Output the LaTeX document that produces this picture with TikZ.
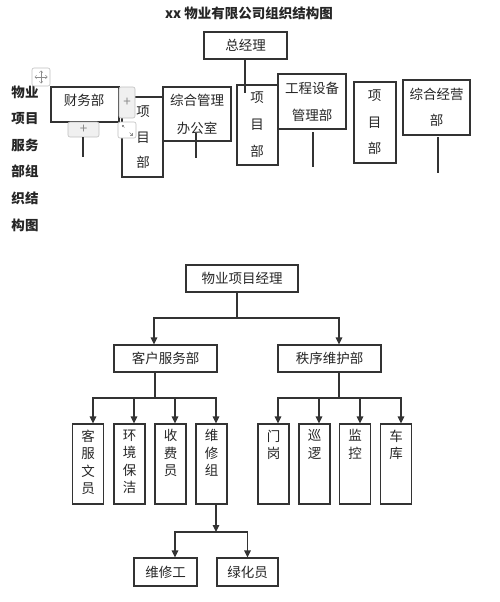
\documentclass[tikz,border=0pt]{standalone}
\usepackage{fontspec}
\newfontfamily\cjk{Noto Sans CJK SC}
\usetikzlibrary{arrows.meta,calc}
\begin{document}
\begin{tikzpicture}[x=1pt,y=-1pt,
  every node/.style={font=\cjk\fontsize{13.5}{16}\selectfont, text=black!85, inner sep=0pt},
  box/.style={draw=black!80, line width=1.1pt, fill=white},
  ln/.style={draw=black!80, line width=1.1pt},
  arr/.style={ln, -{Triangle[length=7pt,width=6.5pt]}},
  tl/.style={align=center, font=\cjk\fontsize{13.5}{27}\selectfont},
  vl/.style={align=center, font=\cjk\fontsize{13.5}{17.5}\selectfont},
  btn/.style={draw=black!25, fill=black!6, rounded corners=2pt, line width=0.6pt, text=black!45},
  icon/.style={draw=black!45, line width=0.5pt},
]
\fill[white] (0,0) rectangle (500,602);
\useasboundingbox (0,0) rectangle (500,602);

% title and side text
\node[font=\cjk\bfseries\fontsize{13.5}{16}\selectfont] (title) at (249,13) {xx 物业有限公司组织结构图};
\node[align=center, font=\cjk\bfseries\fontsize{13.5}{26.6}\selectfont] (side) at (25,158.5)
  {物业\\项目\\服务\\部组\\织结\\构图};

% top boxes
\node[box, minimum width=83pt, minimum height=27pt] (zjl) at (245.5,45.5) {总经理};
\node[box, minimum width=68pt, minimum height=35pt] (cw) at (85,104.5) {};
\node (cwt) at (84,100) {财务部};
\node[box, minimum width=41pt, minimum height=80pt] (xm1) at (142.5,137) {};
\node[tl, font=\cjk\fontsize{13.5}{25.5}\selectfont] (xm1t) at (143,137.5) {项\\目\\部};
\node[box, minimum width=68pt, minimum height=54pt] (zhgl) at (197,114) {};
\node[tl, font=\cjk\fontsize{13.5}{28}\selectfont] (zhglt) at (197,114) {综合管理\\办公室};
\node[box, minimum width=41pt, minimum height=80pt] (xm2) at (257.5,125) {};
\node[tl] (xm2t) at (257,125) {项\\目\\部};
\node[box, minimum width=68pt, minimum height=55pt] (gcsb) at (312,101.5) {};
\node[tl] (gcsbt) at (312,101.5) {工程设备\\管理部};
\node[box, minimum width=42pt, minimum height=81pt] (xm3) at (375,122.5) {};
\node[tl, font=\cjk\fontsize{13.5}{26.5}\selectfont] (xm3t) at (374.5,122.5) {项\\目\\部};
\node[box, minimum width=67pt, minimum height=55pt] (zhjy) at (436.5,107.5) {};
\node[tl, font=\cjk\fontsize{13.5}{26}\selectfont] (zhjyt) at (436.5,107) {综合经营\\部};

% editor buttons
\node[btn, minimum width=31pt, minimum height=15pt] (pl1) at (83.5,129.5) {+};
\node[btn, minimum width=16pt, minimum height=31pt] (pl2) at (127,102.5) {+};
\node[btn, fill=white, minimum width=18pt, minimum height=16pt] (rs) at (127,130) {};
\draw[icon, {Straight Barb[length=1.6pt]}-] (121.5,124.5) -- (124.5,127.5);
\draw[icon, -{Straight Barb[length=1.6pt]}] (129.5,132.5) -- (132.5,135.5);
\node[btn, fill=white, minimum width=18pt, minimum height=18pt] (mv) at (41,77) {};
\draw[icon, {Straight Barb[length=1.8pt]}-{Straight Barb[length=1.8pt]}] (34.5,77) -- (47.5,77);
\draw[icon, {Straight Barb[length=1.8pt]}-{Straight Barb[length=1.8pt]}] (41,70.5) -- (41,83.5);

% top free lines
\coordinate (zjle) at (245,93);
\draw[ln] (zjl.south -| zjle) -- (zjle);
\coordinate (cwe) at (83,157);
\draw[ln] (pl1.south -| cwe) -- (cwe);
\coordinate (zgs) at (196,133);
\coordinate (zge) at (196,158);
\draw[ln] (zgs) -- (zge);
\coordinate (gcs) at (313,132);
\coordinate (gce) at (313,167);
\draw[ln] (gcs) -- (gce);
\coordinate (zjs) at (438,137);
\coordinate (zje) at (438,173);
\draw[ln] (zjs) -- (zje);

% lower chart
\node[box, minimum width=112pt, minimum height=27pt] (wyjl) at (242,278.5) {物业项目经理};
\node[box, minimum width=103pt, minimum height=27pt] (kf) at (165.5,358.5) {客户服务部};
\node[box, minimum width=103pt, minimum height=27pt] (zx) at (329.5,358.5) {秩序维护部};

\coordinate (j1) at (237,318);
\draw[ln] (j1 |- wyjl.south) -- (j1);
\draw[arr] (j1) -| ([xshift=-11.5pt]kf.north);
\draw[arr] (j1) -| ([xshift=9.5pt]zx.north);

\foreach \n/\x/\t in {b1/88/{客\\服\\文\\员}, b2/129.5/{环\\境\\保\\洁}, b3/170.5/{收\\费\\员}, b4/211.5/{维\\修\\组},
                      b5/273.5/{门\\岗}, b6/314.5/{巡\\逻}, b7/355/{监\\控}, b8/396/{车\\库}}{
  \node[box, minimum width=31pt, minimum height=80pt] (\n) at (\x,464) {};
  \node[vl, anchor=north] (\n t) at ([yshift=-6pt]\n.north) {\t};
}

\coordinate (j2) at (155,398);
\draw[ln] (j2 |- kf.south) -- (j2);
\draw[arr] (j2) -| ([xshift=5pt]b1.north);
\draw[arr] (j2) -| ([xshift=4.5pt]b2.north);
\draw[arr] (j2) -| ([xshift=4.5pt]b3.north);
\draw[arr] (j2) -| ([xshift=4.5pt]b4.north);

\coordinate (j3) at (339,398);
\draw[ln] (j3 |- zx.south) -- (j3);
\draw[arr] (j3) -| ([xshift=4.5pt]b5.north);
\draw[arr] (j3) -| ([xshift=4.5pt]b6.north);
\draw[arr] (j3) -| ([xshift=5pt]b7.north);
\draw[arr] (j3) -| ([xshift=5pt]b8.north);

\node[box, minimum width=63pt, minimum height=28pt] (wxg) at (165.5,572) {维修工};
\node[box, minimum width=61pt, minimum height=28pt] (lhy) at (247.5,572) {绿化员};
\coordinate (j4) at (216,532);
\draw[arr] ([xshift=4.5pt]b4.south) -- (j4);
\draw[arr] (j4) -| ([xshift=9.5pt]wxg.north);
\draw[arr] (j4) -| (lhy.north);
\end{tikzpicture}
\end{document}
